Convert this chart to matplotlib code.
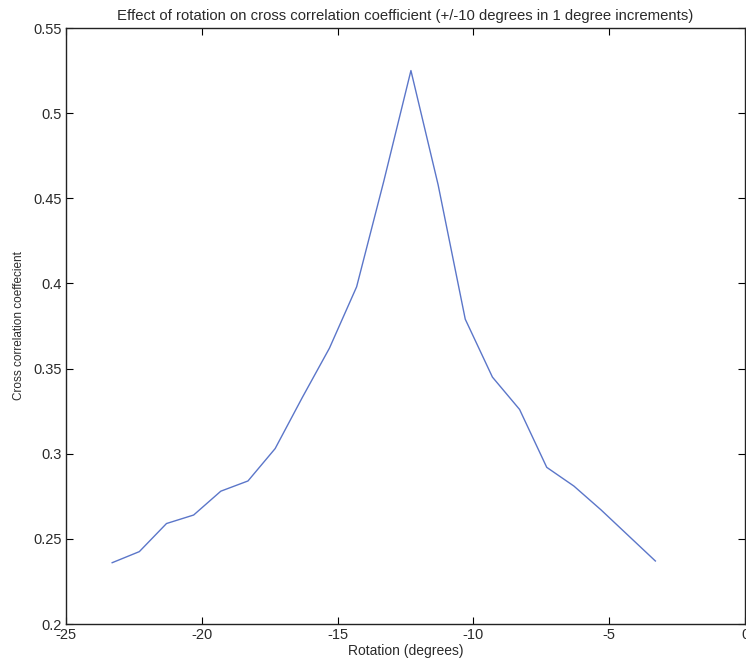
import numpy as np
import matplotlib
matplotlib.use("Agg")
import matplotlib.pyplot as plt

# rotation in degrees, one step per degree
rotation = np.arange(-23.3, -3.29, 1.0)
xcorr = [0.236, 0.2425, 0.259, 0.264, 0.278, 0.284, 0.303, 0.333, 0.362,
         0.398, 0.460, 0.525, 0.458, 0.379, 0.345, 0.326, 0.292, 0.281,
         0.267, 0.252, 0.237]

xticks = [-25, -20, -15, -10, -5, 0]
yticks = [0.2, 0.25, 0.3, 0.35, 0.4, 0.45, 0.5, 0.55]
ytick_labels = ["0.2", "0.25", "0.3", "0.35", "0.4", "0.45", "0.5", "0.55"]

plt.rcParams["font.family"] = ["Liberation Sans", "DejaVu Sans"]
text_col = "#2a2a2a"

fig = plt.figure(figsize=(7.46, 6.66), dpi=100)
ax = fig.add_axes([66 / 746, 1 - 624 / 666, 679 / 746, 596 / 666])

ax.plot(rotation, xcorr, color="#5b76c9", linewidth=1.0)

ax.set_xlim(-25, 0)
ax.set_ylim(0.2, 0.55)
ax.set_xticks(xticks)
ax.set_xticklabels([str(t) for t in xticks])
ax.set_yticks(yticks)
ax.set_yticklabels(ytick_labels)

ax.tick_params(direction="in", length=5, width=0.8, top=True, right=True,
               labelsize=10.5, labelcolor=text_col, pad=3)
for s in ax.spines.values():
    s.set_linewidth(1.0)
    s.set_color("#222222")

ax.set_xlabel("Rotation (degrees)", fontsize=10, color=text_col, labelpad=1)
ax.set_ylabel("Cross correlation coeffecient", fontsize=8.5, color=text_col, labelpad=6)
ax.set_title("Effect of rotation on cross correlation coefficient "
             "(+/-10 degrees in 1 degree increments)",
             fontsize=10.7, color=text_col, pad=6)

fig.savefig("out.png", dpi=100)
